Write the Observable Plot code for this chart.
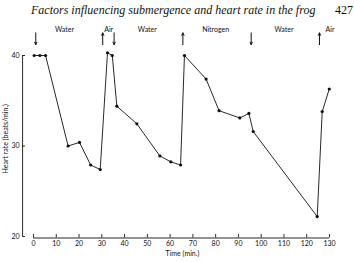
<!DOCTYPE html>
<html><head><meta charset="utf-8">
<script src="https://cdn.jsdelivr.net/npm/d3@7"></script>
<script src="https://cdn.jsdelivr.net/npm/@observablehq/plot@0.6"></script>
<style>
body{margin:0;background:#fff;}
#wrap{position:relative;width:354px;height:262px;overflow:hidden;background:#fff;}
#title{position:absolute;left:31px;top:3px;font:italic 12px "Liberation Serif";white-space:nowrap;color:#111;}
#page{position:absolute;left:335px;top:3px;font:12px "Liberation Serif";white-space:nowrap;color:#111;}
#chart{position:absolute;left:0;top:0;}
</style></head>
<body>
<div id="wrap"><div id="chart"></div>
<div id="title">Factors influencing submergence and heart rate in the frog</div>
<div id="page">427</div></div>
<script>
// Data
const time = [0.3, 2.8, 5.3, 15.2, 20.2, 25.1, 29.3, 32.5, 34.6, 36.6, 45.4, 55.5, 60.3, 64.6, 66.3, 75.8, 81.5, 90.6, 94.6, 96.5, 124.6, 126.8, 129.9];
const rate = [40, 40, 40, 30, 30.4, 27.9, 27.4, 40.3, 40, 34.4, 32.45, 28.9, 28.25, 27.9, 40, 37.4, 33.9, 33.1, 33.6, 31.6, 22.2, 33.8, 36.3];
const arrowTime = [1, 30.4, 35.4, 65.6, 95.6, 125.6];
const arrowDir = ["down", "up", "down", "up", "down", "up"];
const gasLabel = ["Water", "Air", "Water", "Nitrogen", "Water", "Air"];
const gasLabelTime = [13.6, 33, 50, 80, 110, 130.2];
const xTicks = [0, 10, 20, 30, 40, 50, 60, 70, 80, 90, 100, 110, 120, 130];
const yTicks = [20, 30, 40];

const pts = time.map((t, i) => ({t, r: rate[i]}));
const arrows = arrowTime.map((t, i) => ({t, dir: arrowDir[i]}));
const labels = gasLabel.map((s, i) => ({s, t: gasLabelTime[i]}));

const yAxisX = -4.8;
const font = "Lato";
const fs = 7;

const chart = Plot.plot({
  width: 354, height: 262,
  marginLeft: 33, marginRight: 25, marginTop: 55, marginBottom: 26,
  x: {domain: [0, 130], axis: null},
  y: {domain: [20, 40], axis: null},
  style: {fontFamily: font, fontSize: fs + "px", background: "transparent", color: "#111"},
  marks: [
    // y axis
    Plot.ruleX([yAxisX], {y1: 20, y2: 40, stroke: "#111", strokeWidth: 0.9}),
    Plot.ruleY(yTicks, {y: d => d, x1: yAxisX, x2: yAxisX + 1.3, stroke: "#111", strokeWidth: 0.9}),
    Plot.text(yTicks, {y: d => d, x: yAxisX, dx: -3, textAnchor: "end", text: d => String(d), fontSize: fs, fill: "#111"}),
    // x axis
    Plot.ruleY([20], {x1: 0, x2: 130, dy: 1.5, stroke: "#111", strokeWidth: 0.9}),
    Plot.ruleX(xTicks, {x: d => d, y1: 20, y2: 20.38, dy: 1.5, stroke: "#111", strokeWidth: 0.9}),
    Plot.text(xTicks, {x: d => d, y: 20, dy: 7.5, text: d => String(d), fontSize: fs, fill: "#111"}),
    // axis titles
    Plot.text(["Time (min.)"], {x: 65.4, y: 20, dy: 17, text: d => d, fontSize: fs, fill: "#111"}),
    Plot.text(["Heart rate (beats/min.)"], {x: yAxisX, y: 30.8, dx: -17, rotate: -90, text: d => d, fontSize: fs, fill: "#111"}),
    // data
    Plot.line(pts, {x: "t", y: "r", stroke: "#111", strokeWidth: 0.9}),
    Plot.dot(pts, {x: "t", y: "r", r: 1.6, fill: "#111", stroke: "none"}),
    // arrows and labels
    Plot.arrow(arrows, {
      x: "t",
      y1: d => d.dir === "down" ? 42.5 : 41.2,
      y2: d => d.dir === "down" ? 41.2 : 42.5,
      headLength: 4, headAngle: 50, strokeWidth: 1, stroke: "#111"
    }),
    Plot.text(labels, {x: "t", y: 42.9, text: "s", fontSize: fs, fill: "#111"})
  ]
});
document.getElementById("chart").appendChild(chart);
</script>
</body></html>
